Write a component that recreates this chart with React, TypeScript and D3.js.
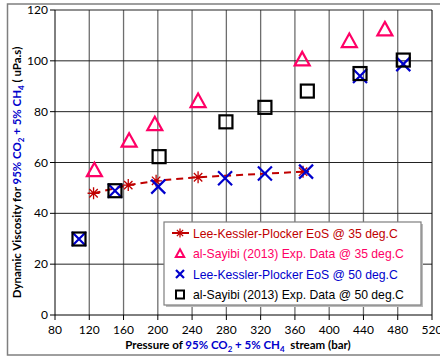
import React from "react";
import * as d3 from "d3";

const xTicks = [80, 120, 160, 200, 240, 280, 320, 360, 400, 440, 480, 520];
const yTicks = [0, 20, 40, 60, 80, 100, 120];

const lkp35X = [125, 165.5, 198, 247, 369.5];
const lkp35Y = [47.9, 51.1, 52.8, 54.2, 56.4];

const exp35X = [126, 166.5, 196.5, 247, 368.5, 423.5, 465];
const exp35Y = [57, 68.6, 75.1, 84.2, 100.6, 107.8, 112.4];

const lkp50X = [108, 150, 200.5, 278.5, 325, 373, 436, 486.5];
const lkp50Y = [29.9, 48.9, 50.5, 53.8, 55.7, 56.4, 94, 98.7];

const exp50X = [108, 150, 201.5, 279.5, 325, 374.5, 436, 486.5];
const exp50Y = [29.9, 48.9, 62.3, 76, 81.7, 88.1, 95, 100.3];

const legendLabels = [
  "Lee-Kessler-Plocker EoS @ 35 deg.C",
  "al-Sayibi (2013) Exp. Data @ 35 deg.C",
  "Lee-Kessler-Plocker EoS @ 50 deg.C",
  "al-Sayibi (2013) Exp. Data @ 50 deg.C",
];

const RED = "#C00000";
const PINK = "#FF0066";
const BLUE = "#0000CC";
const BLACK = "#000000";

const TICKFONT = "Lato, 'Open Sans', sans-serif";
const LEGFONT = "'Liberation Sans', Arial, sans-serif";

function Asterisk({ x, y, s = 6, color = RED }: { x: number; y: number; s?: number; color?: string }) {
  const d = `M${x - s},${y}L${x + s},${y}M${x},${y - s}L${x},${y + s}M${x - s * 0.7},${y - s * 0.7}L${x + s * 0.7},${y + s * 0.7}M${x - s * 0.7},${y + s * 0.7}L${x + s * 0.7},${y - s * 0.7}`;
  return <path d={d} stroke={color} strokeWidth={1.3} fill="none" />;
}
function Tri({ x, y, s = 7.5, color = PINK, w = 2.2 }: { x: number; y: number; s?: number; color?: string; w?: number }) {
  const h = s * 1.8;
  const d = `M${x},${y - h * 0.55}L${x + s},${y + h * 0.45}L${x - s},${y + h * 0.45}Z`;
  return <path d={d} stroke={color} strokeWidth={w} fill="none" />;
}
function Cross({ x, y, s = 7, color = BLUE, w = 2.2 }: { x: number; y: number; s?: number; color?: string; w?: number }) {
  const d = `M${x - s},${y - s}L${x + s},${y + s}M${x - s},${y + s}L${x + s},${y - s}`;
  return <path d={d} stroke={color} strokeWidth={w} fill="none" />;
}
function Sq({ x, y, s = 6.5, color = BLACK, w = 2.2 }: { x: number; y: number; s?: number; color?: string; w?: number }) {
  return <rect x={x - s} y={y - s} width={2 * s} height={2 * s} stroke={color} strokeWidth={w} fill="none" />;
}

export default function App() {
  const W = 440, H = 360;
  const L = 55, R = 432, T = 10, B = 315;
  const x = d3.scaleLinear().domain([80, 520]).range([L, R]);
  const y = d3.scaleLinear().domain([0, 120]).range([B, T]);

  const line = d3
    .line<number>()
    .x((_, i) => x(lkp35X[i]))
    .y((d) => y(d));

  const legX = 164, legY = 222, legW = 257, legH = 83;
  const rowY = [233, 253.5, 274, 294.5];

  return (
    <svg width={W} height={H} style={{ position: "absolute", left: 0, top: 0 }}>
      <rect x={0} y={0} width={W} height={H} fill="#fff" />
      <rect x={7.5} y={4} width={440} height={351} fill="none" stroke="#7f7f7f" strokeWidth={1.5} />
      {/* grid */}
      {xTicks.slice(1, -1).map((t) => (
        <line key={"gx" + t} x1={x(t)} x2={x(t)} y1={T} y2={B} stroke="#6e6e6e" strokeWidth={1.3} />
      ))}
      {yTicks.slice(1).map((t) => (
        <line key={"gy" + t} x1={L} x2={R} y1={y(t)} y2={y(t)} stroke="#222" strokeWidth={1} />
      ))}
      {/* border */}
      <line x1={R} x2={R} y1={T} y2={B} stroke="#000" strokeWidth={1} />
      <line x1={L} x2={L} y1={T} y2={B} stroke="#000" strokeWidth={1} />
      <line x1={L} x2={R} y1={B} y2={B} stroke="#000" strokeWidth={1} />
      {/* ticks */}
      {yTicks.map((t) => (
        <g key={"ty" + t}>
          <line x1={L - 5} x2={L} y1={y(t)} y2={y(t)} stroke="#000" />
          <text x={L - 7} y={y(t) + 4} fontSize={12} textAnchor="end" fontFamily={TICKFONT} fill="#000">
            {t}
          </text>
        </g>
      ))}
      {xTicks.map((t) => (
        <g key={"tx" + t}>
          <line x1={x(t)} x2={x(t)} y1={B} y2={B + 5} stroke="#000" />
          <text x={x(t)} y={B + 19} fontSize={12} textAnchor="middle" fontFamily={TICKFONT} fill="#000">
            {t}
          </text>
        </g>
      ))}
      {/* series */}
      <path d={line(lkp35Y) || ""} stroke={RED} strokeWidth={2} strokeDasharray="7,5" fill="none" />
      {lkp35Y.map((v, i) => (
        <Asterisk key={"a" + i} x={x(lkp35X[i])} y={y(v)} />
      ))}
      {exp35Y.map((v, i) => (
        <Tri key={"t" + i} x={x(exp35X[i])} y={y(v)} />
      ))}
      {lkp50Y.map((v, i) => (
        <Cross key={"c" + i} x={x(lkp50X[i])} y={y(v)} />
      ))}
      {exp50Y.map((v, i) => (
        <Sq key={"s" + i} x={x(exp50X[i])} y={y(v)} />
      ))}
      {/* legend */}
      <rect x={legX + 2} y={legY + 2} width={legW} height={legH} fill="#bbb" />
      <rect x={legX} y={legY} width={legW} height={legH} fill="#fff" stroke="#7f7f7f" strokeWidth={1.2} />
      <line x1={172} x2={189} y1={rowY[0]} y2={rowY[0]} stroke={RED} strokeWidth={2} strokeDasharray="7,3" />
      <Asterisk x={180} y={rowY[0]} s={4.5} />
      <Tri x={180} y={rowY[1]} s={4.2} w={2} />
      <Cross x={180} y={rowY[2]} s={4} w={2.2} />
      <Sq x={180} y={rowY[3]} s={4} w={2} />
      {legendLabels.map((l, i) => (
        <text
          key={"l" + i}
          x={193}
          y={rowY[i] + 4.5}
          fontSize={12.2}
          fontFamily={LEGFONT}
          fill={[RED, PINK, BLUE, BLACK][i]}
        >
          {l}
        </text>
      ))}
      {/* axis titles */}
      <text
        transform={`translate(21,${(T + B) / 2 + 10}) rotate(-90)`}
        textAnchor="middle"
        fontSize={11.5}
        fontWeight="bold"
        fontFamily={TICKFONT}
        fill="#000"
      >
        <tspan>Dynamic Viscosity for </tspan>
        <tspan fill={BLUE}>95% CO</tspan>
        <tspan fill={BLUE} fontSize={8} dy={3}>2</tspan>
        <tspan fill={BLUE} dy={-3}> + 5% CH</tspan>
        <tspan fill={BLUE} fontSize={8} dy={3}>4</tspan>
        <tspan dy={-3}> ( uPa.s)</tspan>
      </text>
      <text x={238} y={349} textAnchor="middle" fontSize={11.5} fontWeight="bold" fontFamily={TICKFONT} fill="#000">
        <tspan>Pressure of </tspan>
        <tspan fill={BLUE}>95% CO</tspan>
        <tspan fill={BLUE} fontSize={8} dy={3}>2</tspan>
        <tspan fill={BLUE} dy={-3}> + 5% CH</tspan>
        <tspan fill={BLUE} fontSize={8} dy={3}>4</tspan>
        <tspan dy={-3} xmlSpace="preserve">{"  stream (bar)"}</tspan>
      </text>
    </svg>
  );
}
